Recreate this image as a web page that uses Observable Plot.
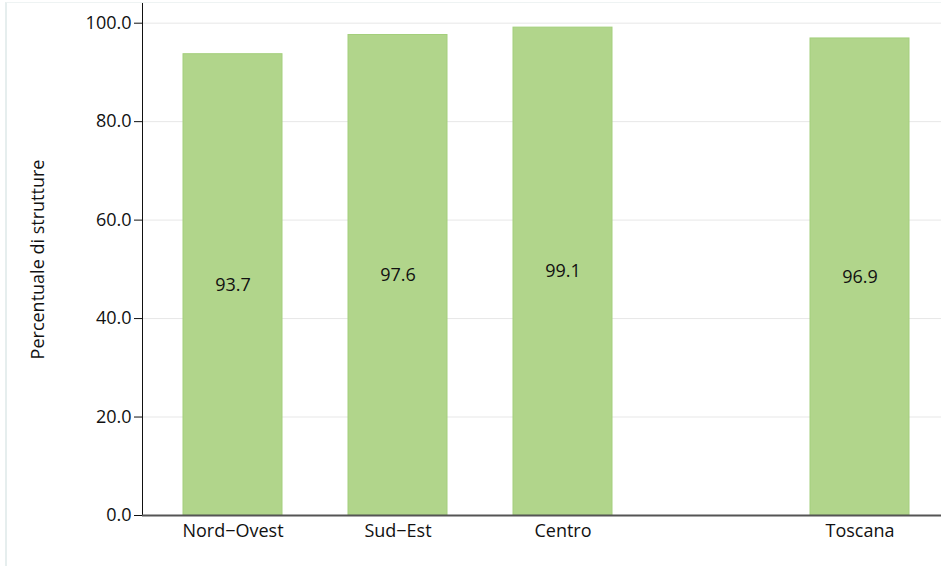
<!DOCTYPE html>
<html>
<head>
<meta charset="utf-8">
<script src="https://cdn.jsdelivr.net/npm/d3@7"></script>
<script src="https://cdn.jsdelivr.net/npm/@observablehq/plot@0.6"></script>
<style>
  html, body { margin: 0; padding: 0; background: #fff; overflow: hidden; }
  #wrap { position: relative; width: 941px; height: 566px; }
  #frame { position: absolute; left: 5px; top: 2px; width: 936px; height: 566px;
           border-left: 2px solid #e6eeee; border-top: 1px solid #eef3f3; box-sizing: border-box; }
  #chart { position: absolute; left: 0; top: 0; }
</style>
</head>
<body>
<div id="wrap"><div id="frame"></div><div id="chart"></div></div>
<script>
// ---- data ----
const categories = ["Nord−Ovest", "Sud−Est", "Centro", "Toscana"];
const values = [93.7, 97.6, 99.1, 96.9];
const yTicks = [0, 20, 40, 60, 80, 100];
const yLabel = "Percentuale di strutture";

const data = categories.map((c, i) => ({ cat: c, value: values[i] }));

// x band domain with blank spacer slots (the gap before Toscana is wider)
const spacer = (n, k) => Array.from({ length: n }, (_, i) => `_${k}_${i}`);
const xDomain = [
  categories[0], ...spacer(4, 0),
  categories[1], ...spacer(4, 1),
  categories[2], ...spacer(8, 2),
  categories[3]
];

const chart = Plot.plot({
  width: 941,
  height: 566,
  marginLeft: 142,
  marginRight: 0,
  marginTop: 3,
  marginBottom: 51,
  style: { fontFamily: "'Open Sans', sans-serif", fontSize: "18px", color: "#111", background: "transparent" },
  x: {
    type: "band",
    domain: xDomain,
    range: [215, 876],
    padding: 0,
    tickSize: 0,
    tickPadding: 9,
    tickFormat: d => d.startsWith("_") ? "" : d,
    label: null
  },
  y: {
    domain: [0, 104],
    ticks: yTicks,
    tickFormat: d => d.toFixed(1),
    tickSize: 8,
    tickPadding: 3,
    grid: true,
    line: true,
    label: null
  },
  marks: [
    Plot.barY(data, {
      x: "cat", y: "value",
      fill: "#b1d58b", stroke: "#a4cf7c", strokeWidth: 1,
      insetLeft: -33, insetRight: -33
    }),
    Plot.ruleY([0], { stroke: "#555", strokeWidth: 2 }),
    Plot.text(data, {
      x: "cat", y: d => d.value / 2,
      text: d => d.value.toFixed(1),
      fill: "#111"
    }),
    Plot.text([yLabel], {
      frameAnchor: "left", dx: -104, rotate: -90,
      textAnchor: "middle", lineAnchor: "middle",
      text: d => d, fill: "#111"
    })
  ]
});
document.getElementById("chart").appendChild(chart);
</script>
</body>
</html>
